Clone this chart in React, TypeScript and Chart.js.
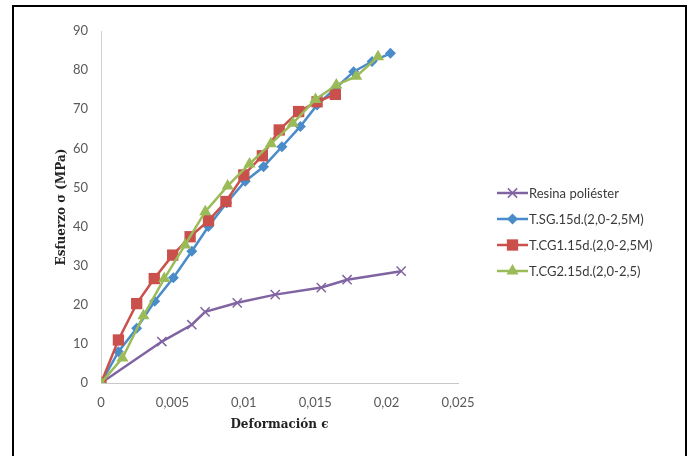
import React, { useEffect, useRef } from "react";
import { Chart, registerables } from "chart.js";

Chart.register(...registerables);

// Strain (ϵ) and stress (MPa) readings for each specimen
const strainResina = [0, 0.00426, 0.00636, 0.00729, 0.00954, 0.0122, 0.01543, 0.01723, 0.02102];
const stressResina = [0, 10.6, 14.9, 18.2, 20.5, 22.6, 24.4, 26.4, 28.6];

const strainSG = [0, 0.00122, 0.0025, 0.00376, 0.00507, 0.00636, 0.00752, 0.0088, 0.0101, 0.01138, 0.01267, 0.01396, 0.01513, 0.0164, 0.01769, 0.01898, 0.02027];
const stressSG = [0, 8.0, 14.0, 20.9, 26.9, 33.7, 40.0, 46.1, 51.6, 55.3, 60.4, 65.6, 71.1, 75.3, 79.6, 82.2, 84.3];

const strainCG1 = [0, 0.00122, 0.0025, 0.00373, 0.00502, 0.00624, 0.00753, 0.00875, 0.01, 0.0113, 0.01248, 0.01384, 0.01513, 0.01641];
const stressCG1 = [0, 11.0, 20.3, 26.7, 32.7, 37.4, 41.5, 46.4, 53.2, 58.1, 64.7, 69.4, 71.9, 73.8];

const strainCG2 = [0, 0.0015, 0.00297, 0.00443, 0.00589, 0.0073, 0.00887, 0.0104, 0.0119, 0.01343, 0.01502, 0.01648, 0.01787, 0.0194];
const stressCG2 = [0, 6.4, 17.2, 26.7, 35.3, 43.8, 50.4, 56.0, 61.2, 66.4, 72.5, 76.2, 78.4, 83.4];

const seriesNames = [
  "Resina poliéster",
  "T.SG.15d.(2,0-2,5M)",
  "T.CG1.15d.(2,0-2,5M)",
  "T.CG2.15d.(2,0-2,5)",
];

const xTickLabels = ["0", "0,005", "0,01", "0,015", "0,02", "0,025"];
const yTickLabels = ["0", "10", "20", "30", "40", "50", "60", "70", "80", "90"];

const COLORS = ["#8064A2", "#4A8BC9", "#C9504B", "#9BBB59"];
const STYLES = ["crossRot", "rectRot", "rect", "triangle"];
const RADII = [6.5, 5.5, 8, 7];

const TICK_FONT = "Lato";
const TITLE_FONT = "'DejaVu Serif'";

const toPoints = (xs: number[], ys: number[]) => xs.map((x, i) => ({ x, y: ys[i] }));

function drawMarker(ctx: CanvasRenderingContext2D, style: string, x: number, y: number, r: number, color: string) {
  ctx.save();
  ctx.fillStyle = color;
  ctx.strokeStyle = color;
  ctx.beginPath();
  if (style === "rect") {
    const s = Math.SQRT1_2 * r;
    ctx.rect(x - s, y - s, 2 * s, 2 * s);
    ctx.fill();
  } else if (style === "rectRot") {
    ctx.moveTo(x, y - r);
    ctx.lineTo(x + r, y);
    ctx.lineTo(x, y + r);
    ctx.lineTo(x - r, y);
    ctx.closePath();
    ctx.fill();
  } else if (style === "triangle") {
    const a = (2 * Math.PI) / 3;
    ctx.moveTo(x, y - r);
    ctx.lineTo(x + Math.sin(a) * r, y - Math.cos(a) * r);
    ctx.lineTo(x + Math.sin(2 * a) * r, y - Math.cos(2 * a) * r);
    ctx.closePath();
    ctx.fill();
  } else {
    const o = Math.SQRT1_2 * r;
    ctx.lineWidth = 1.5;
    ctx.moveTo(x - o, y - o);
    ctx.lineTo(x + o, y + o);
    ctx.moveTo(x + o, y - o);
    ctx.lineTo(x - o, y + o);
    ctx.stroke();
  }
  ctx.restore();
}

// Legend to the right of the plot: a short line sample with its marker, then the name
const sideLegend = {
  id: "sideLegend",
  afterDraw(chart: Chart) {
    const ctx = chart.ctx;
    const x0 = 497;
    const x1 = 528;
    const top = 193;
    const gap = 26;
    seriesNames.forEach((name, i) => {
      const y = top + i * gap;
      ctx.save();
      ctx.strokeStyle = COLORS[i];
      ctx.lineWidth = 2.5;
      ctx.beginPath();
      ctx.moveTo(x0, y);
      ctx.lineTo(x1, y);
      ctx.stroke();
      ctx.restore();
      drawMarker(ctx, STYLES[i], (x0 + x1) / 2, y, RADII[i], COLORS[i]);
      ctx.save();
      ctx.fillStyle = "#3a3a3a";
      ctx.font = `13px ${TICK_FONT}`;
      ctx.textBaseline = "middle";
      ctx.textAlign = "left";
      ctx.fillText(name, x1 + 1, y + 1);
      ctx.restore();
    });
  },
};

const whiteBackground = {
  id: "whiteBackground",
  beforeDraw(chart: Chart) {
    const ctx = chart.ctx;
    ctx.save();
    ctx.fillStyle = "#ffffff";
    ctx.fillRect(0, 0, chart.width, chart.height);
    ctx.restore();
  },
};

export default function App() {
  const canvasRef = useRef<HTMLCanvasElement | null>(null);

  useEffect(() => {
    if (!canvasRef.current) return;
    const datasets = [
      toPoints(strainResina, stressResina),
      toPoints(strainSG, stressSG),
      toPoints(strainCG1, stressCG1),
      toPoints(strainCG2, stressCG2),
    ].map((data, i) => ({
      label: seriesNames[i],
      data,
      borderColor: COLORS[i],
      backgroundColor: COLORS[i],
      borderWidth: 2.5,
      pointStyle: STYLES[i],
      pointRadius: RADII[i],
      pointBorderWidth: i === 0 ? 1.5 : 0,
      pointBorderColor: COLORS[i],
      pointBackgroundColor: COLORS[i],
      tension: 0,
      order: 4 - i,
    }));

    const chart = new Chart(canvasRef.current, {
      type: "line",
      data: { datasets },
      options: {
        animation: false,
        responsive: false,
        events: [],
        layout: { padding: { left: 45, right: 234, top: 31, bottom: 0 } },
        plugins: { legend: { display: false }, tooltip: { enabled: false } },
        scales: {
          x: {
            type: "linear",
            min: 0,
            max: 0.025,
            grid: { display: false, drawTicks: false, tickLength: 0 },
            border: { display: true, color: "#c8c8c8", width: 1 },
            ticks: {
              stepSize: 0.005,
              padding: 12,
              color: "#595959",
              font: { family: TICK_FONT, size: 13 },
              callback: (_v: any, i: number) => xTickLabels[i],
            },
            title: {
              display: true,
              text: "Deformación ϵ",
              color: "#222222",
              font: { family: TITLE_FONT, size: 12, weight: "bold" },
              padding: { top: 0, bottom: 24 },
            },
            afterFit: (s: any) => {
              s.height = 73;
            },
          },
          y: {
            type: "linear",
            min: 0,
            max: 90,
            grid: { display: false, drawTicks: false, tickLength: 0 },
            border: { display: true, color: "#d0d0d0", width: 1 },
            ticks: {
              stepSize: 10,
              padding: 13,
              color: "#595959",
              font: { family: TICK_FONT, size: 13 },
              callback: (_v: any, i: number) => yTickLabels[i],
            },
            title: {
              display: true,
              text: "Esfuerzo σ (MPa)",
              color: "#222222",
              font: { family: TITLE_FONT, size: 12, weight: "bold" },
              padding: { top: 10, bottom: 0 },
            },
            afterFit: (s: any) => {
              s.width = 56;
            },
          },
        },
      },
      plugins: [whiteBackground, sideLegend],
    });
    return () => chart.destroy();
  }, []);

  return (
    <div style={{ position: "fixed", left: 0, top: 0, width: 692, height: 456, background: "#fff", overflow: "hidden" }}>
      <canvas ref={canvasRef} width={692} height={456} style={{ position: "absolute", left: 0, top: 0 }} />
      <div
        style={{
          position: "absolute",
          left: 12,
          top: 5,
          width: 675,
          height: 480,
          boxSizing: "border-box",
          border: "2px solid #000",
          pointerEvents: "none",
        }}
      />
    </div>
  );
}
